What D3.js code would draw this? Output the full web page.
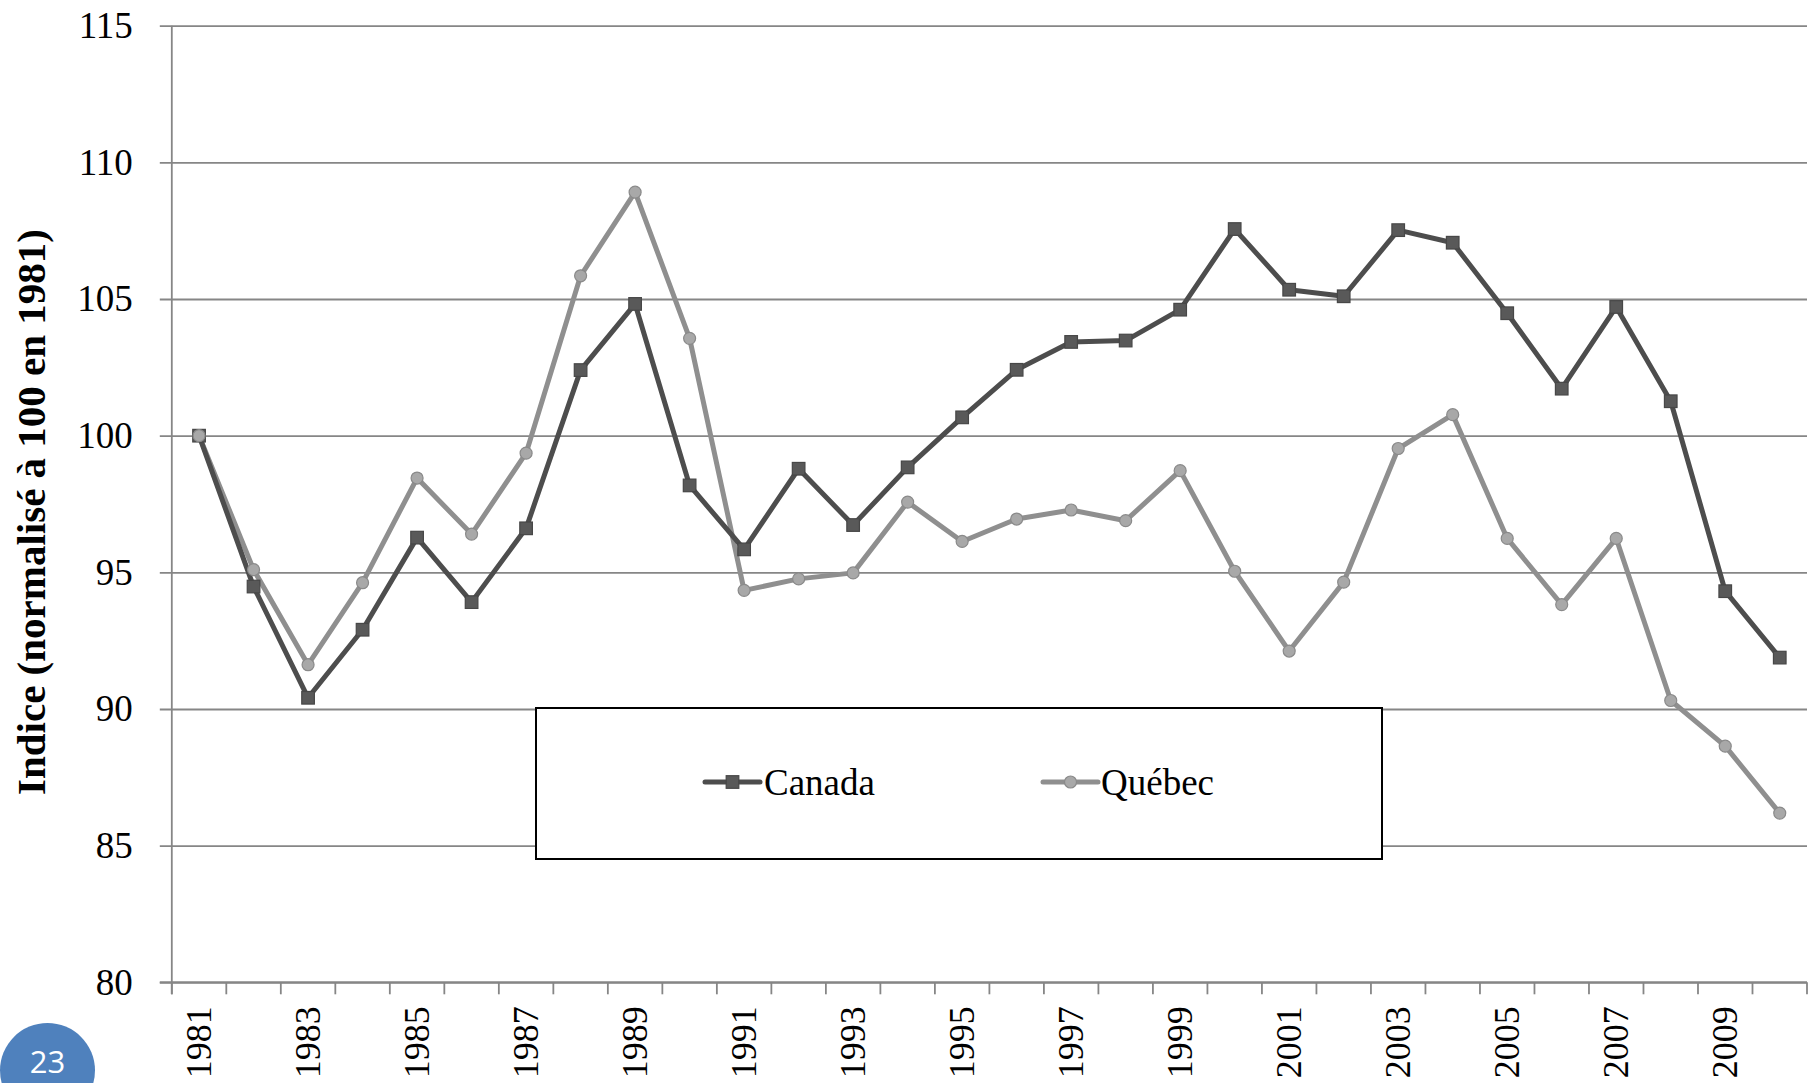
<!DOCTYPE html>
<html>
<head>
<meta charset="utf-8">
<script src="https://cdn.jsdelivr.net/npm/d3@7"></script>
<style>
  html, body { margin: 0; padding: 0; background: #ffffff; }
  svg { display: block; }
</style>
</head>
<body>
<svg id="chart" width="1820" height="1083"></svg>
<script>
const years = d3.range(1981, 2011).map(String);
const canada = [100, 94.48, 90.41, 92.9, 96.27, 93.91, 96.61, 102.4, 104.82, 98.18,
  95.84, 98.79, 96.73, 98.84, 100.67, 102.41, 103.43, 103.48, 104.61, 107.56,
  105.34, 105.1, 107.52, 107.06, 104.48, 101.72, 104.71, 101.26, 94.31, 91.88];
const quebec = [100, 95.1, 91.62, 94.62, 98.45, 96.4, 99.36, 105.85, 108.91, 103.56,
  94.34, 94.76, 94.98, 97.57, 96.13, 96.95, 97.28, 96.89, 98.72, 95.04,
  92.12, 94.64, 99.53, 100.77, 96.24, 93.82, 96.24, 90.31, 88.64, 86.19];
const yTicks = [80, 85, 90, 95, 100, 105, 110, 115];
const xLabels = years.filter((d, i) => i % 2 === 0);
const seriesNames = ["Canada", "Québec"];
const yTitle = "Indice (normalisé à 100 en 1981)";
const pageNumber = "23";

const svg = d3.select("#chart");
const L = 171.8, R = 1807, T = 25.7, B = 982.3;
const serif = "'Liberation Serif', 'DejaVu Serif', serif";
const gridCol = "#868686";

const x = d3.scaleBand().domain(years).range([L, R]).paddingInner(0).paddingOuter(0);
const y = d3.scaleLinear().domain([80, 115]).range([B, T]);
const cx = d => x(d) + x.bandwidth() / 2;

// Horizontal gridlines with outward ticks
const yAxis = d3.axisLeft(y).tickValues(yTicks).tickSize(-(R - L)).tickFormat(d3.format("d"));
const gy = svg.append("g").attr("transform", `translate(${L},0)`).call(yAxis);
gy.select(".domain").remove();
gy.selectAll(".tick line").attr("stroke", gridCol).attr("stroke-width", 1.8).attr("x1", -12);
gy.selectAll(".tick text").attr("x", -39).attr("dy", "0.32em")
  .attr("font-family", serif).attr("font-size", 37).attr("fill", "#000");

// Y axis line
svg.append("line").attr("x1", L).attr("x2", L).attr("y1", T).attr("y2", B + 12)
  .attr("stroke", gridCol).attr("stroke-width", 1.8);

// X axis with ticks at category boundaries
svg.append("line").attr("x1", L - 12).attr("x2", R).attr("y1", B).attr("y2", B)
  .attr("stroke", gridCol).attr("stroke-width", 2);
const bounds = years.map(d => x(d)).concat([R]);
svg.append("g").selectAll("line").data(bounds).join("line")
  .attr("x1", d => d).attr("x2", d => d).attr("y1", B).attr("y2", B + 12)
  .attr("stroke", gridCol).attr("stroke-width", 1.8);

svg.append("g").selectAll("text").data(xLabels).join("text")
  .attr("transform", d => `translate(${cx(d)},${B + 24}) rotate(-90)`)
  .attr("text-anchor", "end").attr("dy", "0.33em")
  .attr("font-family", serif).attr("font-size", 36).attr("fill", "#000")
  .text(d => d);

// Y title
svg.append("text")
  .attr("transform", `translate(31,512) rotate(-90)`)
  .attr("text-anchor", "middle").attr("dy", "0.35em")
  .attr("font-family", serif).attr("font-weight", "bold").attr("font-size", 41).attr("fill", "#000")
  .text(yTitle);

const styles = [
  { data: canada, line: "#4d4d4d", fill: "#595959", stroke: "#474747", shape: "square" },
  { data: quebec, line: "#8f8f8f", fill: "#a8a8a8", stroke: "#8a8a8a", shape: "circle" }
];

const lineGen = d3.line().x((d, i) => cx(years[i])).y(d => y(d));

styles.slice().reverse().forEach(s => {
  svg.append("path").datum(s.data).attr("d", lineGen)
    .attr("fill", "none").attr("stroke", s.line).attr("stroke-width", 5)
    .attr("stroke-linejoin", "round");
});
styles.forEach(s => {
  const g = svg.append("g");
  if (s.shape === "square") {
    g.selectAll("rect").data(s.data).join("rect")
      .attr("x", (d, i) => cx(years[i]) - 6.3).attr("y", d => y(d) - 6.3)
      .attr("width", 12.6).attr("height", 12.6)
      .attr("fill", s.fill).attr("stroke", s.stroke).attr("stroke-width", 1.2);
  } else {
    g.selectAll("circle").data(s.data).join("circle")
      .attr("cx", (d, i) => cx(years[i])).attr("cy", d => y(d)).attr("r", 6)
      .attr("fill", s.fill).attr("stroke", s.stroke).attr("stroke-width", 1.2);
  }
});

// Legend
const lg = svg.append("g");
lg.append("rect").attr("x", 536).attr("y", 708).attr("width", 846).attr("height", 151)
  .attr("fill", "#fff").attr("stroke", "#000").attr("stroke-width", 2);
const legendPos = [{ x0: 705, tx: 764 }, { x0: 1043, tx: 1101 }];
styles.forEach((s, i) => {
  const p = legendPos[i];
  const ly = 782;
  lg.append("line").attr("x1", p.x0).attr("x2", p.x0 + 55).attr("y1", ly).attr("y2", ly)
    .attr("stroke", s.line).attr("stroke-width", 5).attr("stroke-linecap", "round");
  if (s.shape === "square") {
    lg.append("rect").attr("x", p.x0 + 27.5 - 6.3).attr("y", ly - 6.3).attr("width", 12.6).attr("height", 12.6)
      .attr("fill", s.fill).attr("stroke", s.stroke).attr("stroke-width", 1.2);
  } else {
    lg.append("circle").attr("cx", p.x0 + 27.5).attr("cy", ly).attr("r", 6)
      .attr("fill", s.fill).attr("stroke", s.stroke).attr("stroke-width", 1.2);
  }
  lg.append("text").attr("x", p.tx).attr("y", ly).attr("dy", "0.35em")
    .attr("font-family", serif).attr("font-size", 37).attr("fill", "#000")
    .text(seriesNames[i]);
});

// Page number badge
svg.append("circle").attr("cx", 47.5).attr("cy", 1070.5).attr("r", 47.5).attr("fill", "#4f81bd");
svg.append("text").attr("x", 47.5).attr("y", 1073).attr("text-anchor", "middle")
  .attr("font-family", "'Open Sans', 'Liberation Sans', sans-serif").attr("font-size", 31)
  .attr("fill", "#fff").text(pageNumber);
</script>
</body>
</html>
